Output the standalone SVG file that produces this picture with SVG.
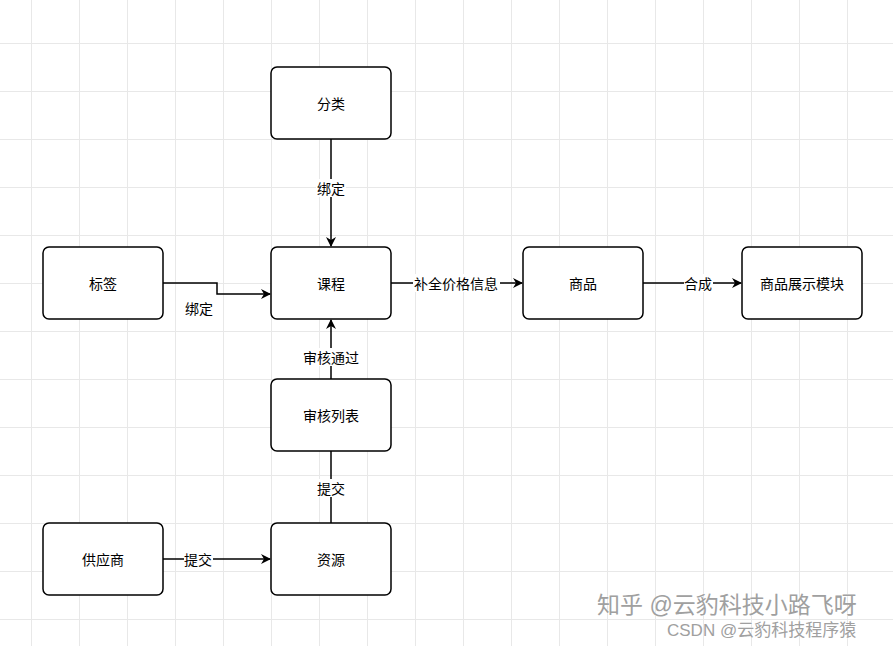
<svg xmlns="http://www.w3.org/2000/svg" width="893" height="646" viewBox="0 0 893 646">
<defs>
<style>
.grid line{stroke:#e8e8e8;stroke-width:1}
.node rect{fill:#fff;stroke:#000;stroke-width:1.5}
.node text,.lbl text{font-family:"Noto Sans CJK SC","Microsoft YaHei",sans-serif;font-size:14px;fill:#000;text-anchor:middle;dominant-baseline:central}
.edges path{fill:none;stroke:#000;stroke-width:1.5}
.lbl rect{fill:#fff}
.wm{font-family:"Liberation Sans","Noto Sans CJK SC",sans-serif;fill:#a0a0a0;stroke:#fff;stroke-width:0.6;paint-order:stroke}
</style>
<marker id="arr" viewBox="0 0 10 10" refX="9" refY="5" markerWidth="10" markerHeight="10" markerUnits="userSpaceOnUse" orient="auto">
<path d="M0,0 L10,5 L0,10 L3,5 Z" fill="#000"/>
</marker>
</defs>
<rect width="893" height="646" fill="#fff"/>
<g class="grid">
<line x1="31.5" y1="0" x2="31.5" y2="646"/>
<line x1="79.5" y1="0" x2="79.5" y2="646"/>
<line x1="127.5" y1="0" x2="127.5" y2="646"/>
<line x1="175.5" y1="0" x2="175.5" y2="646"/>
<line x1="223.5" y1="0" x2="223.5" y2="646"/>
<line x1="271.5" y1="0" x2="271.5" y2="646"/>
<line x1="319.5" y1="0" x2="319.5" y2="646"/>
<line x1="367.5" y1="0" x2="367.5" y2="646"/>
<line x1="415.5" y1="0" x2="415.5" y2="646"/>
<line x1="463.5" y1="0" x2="463.5" y2="646"/>
<line x1="511.5" y1="0" x2="511.5" y2="646"/>
<line x1="559.5" y1="0" x2="559.5" y2="646"/>
<line x1="607.5" y1="0" x2="607.5" y2="646"/>
<line x1="655.5" y1="0" x2="655.5" y2="646"/>
<line x1="703.5" y1="0" x2="703.5" y2="646"/>
<line x1="751.5" y1="0" x2="751.5" y2="646"/>
<line x1="799.5" y1="0" x2="799.5" y2="646"/>
<line x1="847.5" y1="0" x2="847.5" y2="646"/>
<line x1="0" y1="43.5" x2="893" y2="43.5"/>
<line x1="0" y1="91.5" x2="893" y2="91.5"/>
<line x1="0" y1="139.5" x2="893" y2="139.5"/>
<line x1="0" y1="187.5" x2="893" y2="187.5"/>
<line x1="0" y1="235.5" x2="893" y2="235.5"/>
<line x1="0" y1="283.5" x2="893" y2="283.5"/>
<line x1="0" y1="331.5" x2="893" y2="331.5"/>
<line x1="0" y1="379.5" x2="893" y2="379.5"/>
<line x1="0" y1="427.5" x2="893" y2="427.5"/>
<line x1="0" y1="475.5" x2="893" y2="475.5"/>
<line x1="0" y1="523.5" x2="893" y2="523.5"/>
<line x1="0" y1="571.5" x2="893" y2="571.5"/>
<line x1="0" y1="619.5" x2="893" y2="619.5"/>
</g>
<g id="connectors" class="edges">
<path d="M331,139 L331,246" marker-end="url(#arr)"/>
<path d="M163,283 L217,283 L217,294 L270,294" marker-end="url(#arr)"/>
<path d="M391,283 L522,283" marker-end="url(#arr)"/>
<path d="M643,283 L741,283" marker-end="url(#arr)"/>
<path d="M331,379 L331,320" marker-end="url(#arr)"/>
<path d="M331,523 L331,451"/>
<path d="M163,559 L270,559" marker-end="url(#arr)"/>
</g>
<g id="labels" class="lbl">
<rect x="316" y="179" width="30" height="18"/><text x="331" y="188">绑定</text>
<text x="199" y="308">绑定</text>
<rect x="413" y="274" width="87" height="18"/><text x="456" y="283">补全价格信息</text>
<rect x="684" y="274" width="29" height="18"/><text x="698" y="283">合成</text>
<rect x="302" y="348" width="58" height="18"/><text x="331" y="357">审核通过</text>
<rect x="316" y="479" width="30" height="18"/><text x="331" y="488">提交</text>
<rect x="184" y="550" width="29" height="18"/><text x="198" y="559">提交</text>
</g>
<g id="n-fenlei" class="node"><rect x="271" y="67" width="120" height="72" rx="6"/><text x="331" y="103">分类</text></g>
<g id="n-biaoqian" class="node"><rect x="43" y="247" width="120" height="72" rx="6"/><text x="103" y="283">标签</text></g>
<g id="n-kecheng" class="node"><rect x="271" y="247" width="120" height="72" rx="6"/><text x="331" y="283">课程</text></g>
<g id="n-shangpin" class="node"><rect x="523" y="247" width="120" height="72" rx="6"/><text x="583" y="283">商品</text></g>
<g id="n-zhanshi" class="node"><rect x="742" y="247" width="120" height="72" rx="6"/><text x="802" y="283">商品展示模块</text></g>
<g id="n-shenhe" class="node"><rect x="271" y="379" width="120" height="72" rx="6"/><text x="331" y="415">审核列表</text></g>
<g id="n-gongying" class="node"><rect x="43" y="523" width="120" height="72" rx="6"/><text x="103" y="559">供应商</text></g>
<g id="n-ziyuan" class="node"><rect x="271" y="523" width="120" height="72" rx="6"/><text x="331" y="559">资源</text></g>
<g id="watermark">
<text class="wm" x="597" y="613" font-size="23">知乎 @云豹科技小路飞呀</text>
<text class="wm" x="667" y="636" font-size="17">CSDN @云豹科技程序猿</text>
</g>
</svg>
